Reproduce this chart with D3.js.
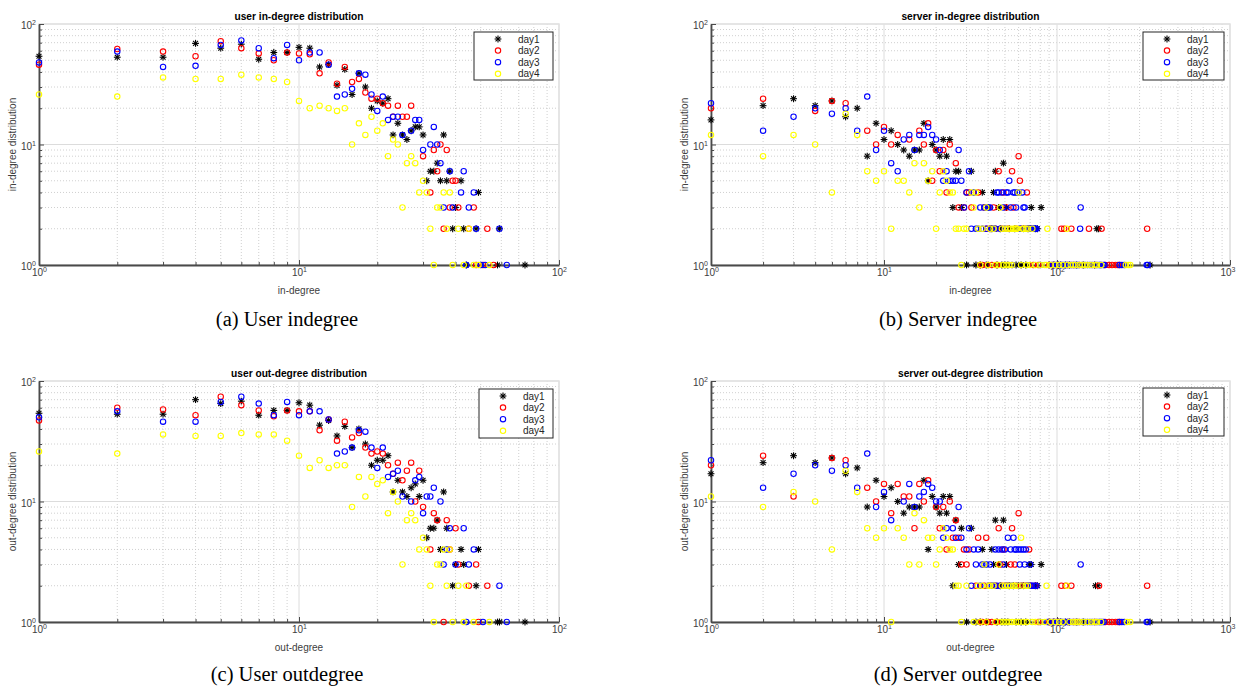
<!DOCTYPE html>
<html>
<head>
<meta charset="utf-8">
<script src="https://cdnjs.cloudflare.com/ajax/libs/d3/7.8.5/d3.min.js"></script>
<style>
  body { margin: 0; background: #fff; }
  svg { display: block; font-family: "Liberation Sans", Arial, sans-serif; }
</style>
</head>
<body>
<div id="fig"></div>
<script>
// series names / colours (legend order)
const seriesNames = ["day1", "day2", "day3", "day4"];
const seriesColors = ["#000000", "#ff0000", "#0000ff", "#ffff00"];

// ---- (a) user in-degree : [degree, count]
const userInDay1 = [[1,54],[2,53],[3,53],[4,69],[5,63],[6,68],[7,51],[8,58],[9,58],[10,64],[11,63],[12,44],[13,46],[14,31],[15,42],[16,26],[17,39],[18,30],[19,20],[20,23],[21,22],[22,24],[23,12],[24,15],[25,12],[26,11],[27,13],[28,14],[29,14],[30,12],[31,5],[32,6],[33,6],[34,7],[35,5],[36,12],[37,5],[38,6],[39,2],[40,3],[42,5],[43,2],[44,1],[48,2],[49,4],[58,1],[59,2],[74,1]];
const userInDay2 = [[1,46],[2,62],[3,59],[4,54],[5,72],[6,63],[7,57],[8,50],[9,58],[10,57],[11,56],[12,39],[13,48],[14,32],[15,44],[16,33],[17,35],[18,27],[19,24],[20,24],[21,22],[22,21],[23,17],[24,21],[25,17],[26,17],[27,21],[30,8],[32,4],[33,9],[34,6],[35,10],[36,2],[37,9],[38,3],[39,5],[40,5],[41,3],[45,2],[47,3],[48,1],[51,1],[53,2],[56,1]];
const userInDay3 = [[1,48],[2,59],[3,44],[4,45],[5,67],[6,73],[7,63],[8,52],[9,67],[10,50],[11,58],[12,58],[13,46],[14,25],[15,26],[16,29],[17,39],[18,38],[19,26],[20,19],[21,25],[22,16],[23,17],[24,17],[25,12],[27,13],[28,16],[29,16],[30,9],[32,10],[33,14],[34,10],[35,7],[36,3],[38,6],[39,3],[42,4],[43,6],[44,1],[45,3],[47,4],[48,2],[50,1],[52,1],[59,2],[63,1]];
const userInDay4 = [[1,26],[2,25],[3,36],[4,35],[5,35],[6,38],[7,36],[8,35],[9,33],[10,23],[11,20],[12,21],[13,20],[14,19],[15,20],[16,10],[17,15],[18,12],[19,17],[20,13],[21,15],[22,8],[23,11],[24,10],[25,3],[26,7],[27,8],[28,7],[29,4],[30,5],[31,4],[32,2],[33,1],[34,3],[35,3],[36,4],[37,2],[38,4],[39,1],[41,2],[43,1],[45,2],[47,1],[49,1],[54,1]];

// ---- (b) server in-degree
const serverInDay1 = [[1,16],[2,21],[3,24],[4,21],[5,23],[6,17],[7,20],[8,8],[9,15],[10,11],[11,13],[12,10],[13,9],[14,8],[15,9],[16,9],[17,15],[18,5],[19,10],[20,9],[21,8],[22,11],[23,8],[24,11],[25,3],[26,6],[27,6],[28,3],[30,1],[32,6],[34,1],[36,1],[37,4],[39,1],[40,3],[41,2],[42,2],[43,4],[44,6],[45,1],[46,3],[47,2],[48,1],[49,7],[50,1],[51,3],[52,1],[53,2],[57,2],[58,1],[62,1],[64,2],[66,1],[68,2],[71,3],[75,2],[77,2],[81,3],[90,1],[96,1],[102,1],[105,1],[112,1],[118,1],[130,1],[142,1],[165,1],[170,2],[174,2],[345,1]];
const serverInDay2 = [[1,20],[2,24],[4,19],[5,23],[6,22],[8,13],[9,10],[10,14],[11,10],[12,12],[14,11],[16,13],[17,10],[18,15],[19,5],[20,9],[21,6],[22,9],[23,4],[24,10],[26,7],[27,3],[29,3],[30,4],[31,4],[32,3],[35,4],[36,1],[37,1],[38,3],[39,2],[40,1],[41,2],[42,1],[43,3],[44,2],[45,1],[46,6],[48,2],[49,4],[51,3],[52,2],[55,6],[56,3],[58,2],[60,8],[61,5],[62,2],[65,2],[67,4],[70,2],[73,1],[78,1],[90,1],[95,1],[100,1],[106,2],[110,2],[115,1],[121,2],[125,1],[135,1],[153,2],[165,1],[181,2],[190,1],[200,1],[208,1],[218,1],[225,1],[230,1],[332,2]];
const serverInDay3 = [[1,22],[2,13],[3,17],[4,20],[5,18],[6,20],[7,13],[8,25],[9,9],[10,13],[11,7],[12,6],[13,11],[14,12],[15,9],[16,12],[17,12],[18,14],[19,12],[20,11],[21,9],[22,5],[23,6],[24,5],[25,5],[26,5],[27,9],[28,5],[29,3],[30,4],[31,6],[32,2],[33,4],[34,2],[35,2],[36,3],[37,2],[38,3],[39,2],[40,3],[41,3],[42,2],[43,2],[44,2],[45,4],[46,4],[47,2],[48,4],[49,3],[50,2],[51,4],[52,4],[53,5],[54,3],[55,1],[56,4],[57,4],[58,3],[59,4],[60,4],[61,2],[62,2],[63,4],[64,3],[65,3],[67,2],[68,2],[69,2],[70,2],[71,2],[72,2],[73,2],[74,2],[75,2],[76,2],[80,1],[93,1],[95,1],[97,1],[100,1],[102,1],[105,1],[107,1],[110,1],[112,1],[114,1],[117,1],[120,1],[122,1],[125,1],[128,1],[130,1],[133,1],[136,2],[137,3],[140,1],[145,1],[150,1],[155,1],[160,1],[165,1],[170,1],[175,1],[178,1],[180,1],[185,1],[188,1],[230,1],[237,1],[245,1],[330,1],[335,1]];
const serverInDay4 = [[1,12],[2,8],[3,12],[4,10],[5,4],[6,18],[7,12],[8,6],[9,5],[10,6],[11,2],[12,5],[13,5],[14,4],[15,7],[16,3],[17,7],[18,5],[19,6],[20,2],[21,4],[22,6],[23,5],[24,4],[25,4],[26,2],[27,2],[28,1],[29,2],[30,2],[32,4],[33,3],[34,4],[35,2],[36,1],[37,2],[39,3],[40,1],[41,2],[43,2],[44,1],[46,1],[47,3],[48,2],[49,1],[50,2],[51,1],[52,2],[53,1],[54,2],[55,1],[56,2],[57,2],[58,2],[59,2],[60,4],[62,1],[63,2],[64,2],[66,2],[67,1],[68,2],[70,1],[72,2],[75,1],[80,1],[85,1],[87,1],[88,2],[92,1],[98,1],[103,1],[108,1],[114,2],[115,1],[120,1],[124,1],[128,1],[135,1],[140,1],[145,1],[150,1],[158,1],[165,1],[170,1],[180,1],[250,1],[258,1],[265,1]];

// ---- (c) user out-degree
const userOutDay1 = [[1,54],[2,53],[3,53],[4,70],[5,65],[6,68],[7,52],[8,57],[9,57],[10,66],[11,63],[12,43],[13,47],[14,35],[15,42],[16,28],[17,40],[18,30],[19,20],[20,22],[21,22],[22,24],[23,12],[24,15],[25,12],[26,11],[27,13],[28,14],[29,11],[30,15],[31,5],[32,6],[33,6],[34,7],[35,4],[36,12],[37,6],[39,2],[40,3],[42,4],[43,3],[48,2],[49,4],[58,1],[59,1],[74,1]];
const userOutDay2 = [[1,47],[2,60],[3,58],[4,52],[5,74],[6,63],[7,57],[8,51],[9,57],[10,56],[11,56],[12,39],[13,48],[14,32],[15,46],[16,34],[17,37],[18,28],[19,25],[20,26],[21,25],[22,20],[23,17],[24,21],[25,15],[26,18],[27,21],[28,10],[29,18],[30,9],[32,4],[33,8],[34,7],[36,1],[37,7],[38,4],[40,6],[41,3],[45,2],[48,3],[49,1],[53,2]];
const userOutDay3 = [[1,50],[2,56],[3,46],[4,46],[5,67],[6,74],[7,65],[8,52],[9,67],[10,52],[11,56],[12,56],[13,48],[14,25],[15,26],[16,28],[17,39],[18,38],[19,28],[20,19],[21,28],[22,16],[23,17],[24,18],[25,11],[27,10],[28,15],[29,16],[30,8],[31,11],[32,11],[33,13],[35,10],[36,3],[37,4],[38,6],[40,3],[43,6],[44,1],[45,3],[47,4],[51,1],[59,2],[63,1]];
const userOutDay4 = [[1,26],[2,25],[3,36],[4,35],[5,35],[6,37],[7,36],[8,36],[9,32],[10,24],[11,19],[12,22],[13,19],[14,20],[15,20],[16,9],[17,16],[18,11],[19,16],[20,14],[21,15],[22,8],[23,12],[24,10],[25,3],[26,7],[27,8],[28,7],[29,4],[30,5],[31,4],[32,2],[33,1],[34,3],[35,3],[36,4],[37,2],[38,4],[39,1],[41,2],[43,1],[44,2],[47,1],[54,1]];

// ---- (d) server out-degree
const serverOutDay1 = [[1,17],[2,21],[3,24],[4,21],[5,23],[6,17],[7,19],[8,9],[9,15],[10,11],[11,13],[12,10],[13,8],[14,9],[15,9],[16,9],[17,15],[18,4],[19,11],[20,9],[21,8],[22,11],[23,8],[24,11],[25,2],[26,7],[27,3],[28,6],[30,1],[32,6],[34,1],[36,1],[37,4],[39,1],[42,4],[43,3],[44,7],[45,1],[46,3],[47,2],[48,1],[49,7],[50,1],[51,3],[52,1],[53,2],[56,2],[58,1],[60,2],[62,1],[64,2],[66,1],[69,3],[71,3],[75,2],[77,2],[81,3],[90,1],[96,1],[102,1],[105,1],[112,1],[118,1],[130,1],[142,1],[167,2],[172,2],[345,1]];
const serverOutDay2 = [[1,20],[2,24],[3,11],[5,23],[6,22],[8,13],[9,10],[10,14],[11,8],[12,14],[13,11],[14,11],[15,6],[16,14],[17,10],[18,15],[20,9],[21,6],[22,9],[23,4],[24,10],[25,5],[26,7],[27,5],[28,3],[29,4],[30,3],[31,4],[34,2],[35,5],[36,1],[37,1],[38,2],[39,5],[40,1],[41,2],[42,1],[44,2],[45,1],[46,6],[47,3],[48,2],[49,4],[50,2],[52,2],[54,3],[55,6],[57,3],[58,2],[60,8],[62,2],[64,2],[66,2],[69,4],[70,2],[75,2],[78,1],[90,1],[95,1],[100,1],[103,1],[106,2],[112,2],[115,1],[121,2],[125,1],[135,1],[165,1],[175,2],[190,1],[200,1],[208,1],[218,1],[225,1],[230,1],[332,2]];
const serverOutDay3 = [[1,22],[2,13],[3,17],[4,20],[5,18],[6,20],[7,13],[8,25],[9,9],[10,12],[11,7],[13,10],[14,14],[15,9],[16,11],[17,12],[18,14],[19,13],[20,10],[21,10],[22,5],[23,6],[25,6],[26,5],[27,9],[28,5],[30,4],[31,6],[32,2],[33,4],[34,3],[35,4],[36,2],[37,3],[38,3],[39,3],[40,2],[41,3],[42,2],[43,2],[44,4],[45,2],[46,4],[47,2],[48,4],[49,3],[50,4],[51,2],[52,5],[53,2],[54,4],[55,2],[56,5],[57,4],[58,4],[59,2],[60,4],[61,3],[62,4],[63,2],[64,4],[65,3],[66,4],[67,2],[68,2],[69,2],[70,3],[71,2],[72,2],[74,2],[76,2],[80,1],[88,1],[92,1],[95,1],[97,1],[100,1],[102,1],[105,1],[107,1],[110,1],[112,1],[115,1],[117,1],[120,1],[124,1],[128,1],[132,1],[137,3],[140,1],[145,1],[150,1],[155,1],[160,1],[165,1],[170,1],[175,1],[178,1],[182,1],[186,1],[230,1],[237,1],[245,1],[330,1],[335,1]];
const serverOutDay4 = [[1,11],[2,9],[3,12],[4,10],[5,4],[6,18],[7,12],[8,6],[9,5],[10,6],[11,1],[12,6],[13,5],[14,3],[15,8],[16,3],[17,7],[18,5],[19,5],[20,3],[21,4],[22,6],[23,5],[24,4],[25,4],[26,2],[27,2],[28,1],[30,2],[33,1],[35,2],[36,1],[37,2],[38,3],[39,1],[40,2],[41,2],[43,2],[44,1],[46,3],[47,1],[48,2],[49,1],[50,2],[51,1],[52,2],[53,1],[54,2],[55,1],[56,2],[57,2],[58,1],[59,2],[60,1],[62,5],[63,2],[64,1],[66,2],[67,1],[68,2],[72,1],[75,1],[80,1],[85,1],[87,2],[92,1],[98,1],[103,1],[108,1],[114,2],[118,1],[124,1],[128,1],[131,1],[135,1],[142,1],[150,1],[158,1],[165,1],[170,1],[180,1],[254,1],[265,1]];

const panels = [
  { title: "user in-degree distribution", xlabel: "in-degree", ylabel: "in-degree distribution", caption: "(a) User indegree",
    left: 39, right: 559, top: 24, bottom: 265, xmax: 100, capX: 287, capY: 326,
    legend: { x: 474, y: 32, w: 79, h: 48 },
    series: [userInDay1, userInDay2, userInDay3, userInDay4] },
  { title: "server in-degree distribution", xlabel: "in-degree", ylabel: "in-degree distribution", caption: "(b) Server indegree",
    left: 711, right: 1230, top: 24, bottom: 265, xmax: 1000, capX: 958, capY: 326,
    legend: { x: 1143, y: 32, w: 81, h: 48 },
    series: [serverInDay1, serverInDay2, serverInDay3, serverInDay4] },
  { title: "user out-degree distribution", xlabel: "out-degree", ylabel: "out-degree distribution", caption: "(c) User outdegree",
    left: 39, right: 559, top: 381, bottom: 622, xmax: 100, capX: 287, capY: 681,
    legend: { x: 479, y: 389, w: 74, h: 49 },
    series: [userOutDay1, userOutDay2, userOutDay3, userOutDay4] },
  { title: "server out-degree distribution", xlabel: "out-degree", ylabel: "out-degree distribution", caption: "(d) Server outdegree",
    left: 711, right: 1230, top: 381, bottom: 622, xmax: 1000, capX: 958, capY: 681,
    legend: { x: 1143, y: 388, w: 81, h: 48 },
    series: [serverOutDay1, serverOutDay2, serverOutDay3, serverOutDay4] }
];

const W = 1236, H = 686;
const axisColor = "#4a4a4a", labelColor = "#404040";

const svg = d3.select("#fig").append("svg")
  .attr("width", W).attr("height", H);

// 10^n label
function expLabel(sel, d) {
  const e = Math.round(Math.log10(d));
  sel.text("10");
  sel.append("tspan").attr("dy", "-0.55em").attr("font-size", "7px").text(e);
}

// matlab style asterisk
function drawStar(g, cx, cy, color) {
  const r = 3.4, r2 = r * 0.72;
  const segs = [[-r,0,r,0],[0,-r,0,r],[-r2,-r2,r2,r2],[-r2,r2,r2,-r2]];
  segs.forEach(s => {
    g.append("line")
      .attr("x1", cx + s[0]).attr("y1", cy + s[1])
      .attr("x2", cx + s[2]).attr("y2", cy + s[3])
      .attr("stroke", color).attr("stroke-width", 1.1);
  });
}

function drawPanel(p) {
  const g = svg.append("g");
  const x = d3.scaleLog().domain([1, p.xmax]).range([p.left, p.right]);
  const y = d3.scaleLog().domain([1, 100]).range([p.bottom, p.top]);

  const xAll = x.ticks();
  const yAll = y.ticks();
  const isDecade = d => Math.abs(Math.log10(d) - Math.round(Math.log10(d))) < 1e-9;
  const xMaj = xAll.filter(isDecade), yMaj = yAll.filter(isDecade);
  const xMin = xAll.filter(d => !isDecade(d)), yMin = yAll.filter(d => !isDecade(d));

  // minor grid (dotted)
  g.append("g").selectAll("line").data(xMin).enter().append("line")
    .attr("x1", d => x(d)).attr("x2", d => x(d))
    .attr("y1", p.top).attr("y2", p.bottom)
    .attr("stroke", "#c4c4c4").attr("stroke-width", 0.8).attr("stroke-dasharray", "1,2");
  g.append("g").selectAll("line").data(yMin).enter().append("line")
    .attr("y1", d => y(d)).attr("y2", d => y(d))
    .attr("x1", p.left).attr("x2", p.right)
    .attr("stroke", "#c4c4c4").attr("stroke-width", 0.8).attr("stroke-dasharray", "1,2");
  // major grid (solid)
  g.append("g").selectAll("line").data(xMaj).enter().append("line")
    .attr("x1", d => x(d)).attr("x2", d => x(d))
    .attr("y1", p.top).attr("y2", p.bottom)
    .attr("stroke", "#dcdcdc").attr("stroke-width", 1);
  g.append("g").selectAll("line").data(yMaj).enter().append("line")
    .attr("y1", d => y(d)).attr("y2", d => y(d))
    .attr("x1", p.left).attr("x2", p.right)
    .attr("stroke", "#dcdcdc").attr("stroke-width", 1);

  // light box top/right
  g.append("rect")
    .attr("x", p.left).attr("y", p.top)
    .attr("width", p.right - p.left).attr("height", p.bottom - p.top)
    .attr("fill", "none").attr("stroke", "#e2e2e2").attr("stroke-width", 1.5);

  // x axis: minor ticks then major ticks with labels
  g.append("g").attr("transform", "translate(0," + p.bottom + ")")
    .call(d3.axisBottom(x).tickValues(xMin).tickSize(-3).tickSizeOuter(0).tickFormat(""))
    .call(s => s.select(".domain").remove())
    .selectAll(".tick line").attr("stroke", axisColor);
  const xa = g.append("g").attr("transform", "translate(0," + p.bottom + ")")
    .call(d3.axisBottom(x).tickValues(xMaj).tickSize(-5).tickSizeOuter(0).tickPadding(4).tickFormat(""));
  xa.select(".domain").attr("stroke", axisColor).attr("stroke-width", 1.8);
  xa.selectAll(".tick line").attr("stroke", axisColor);
  xa.selectAll(".tick text")
    .attr("font-family", "Liberation Sans, Arial, sans-serif").attr("font-size", "10px").attr("fill", labelColor)
    .each(function(d) { expLabel(d3.select(this), d); });
  // last label sits at the page edge: keep it inside
  xa.selectAll(".tick text").filter(d => x(d) > W - 12)
    .attr("text-anchor", "end").attr("x", W - 1 - x(p.xmax));

  // y axis
  g.append("g").attr("transform", "translate(" + p.left + ",0)")
    .call(d3.axisLeft(y).tickValues(yMin).tickSize(-3).tickSizeOuter(0).tickFormat(""))
    .call(s => s.select(".domain").remove())
    .selectAll(".tick line").attr("stroke", axisColor);
  const ya = g.append("g").attr("transform", "translate(" + p.left + ",0)")
    .call(d3.axisLeft(y).tickValues(yMaj).tickSize(-5).tickSizeOuter(0).tickPadding(3).tickFormat(""));
  ya.select(".domain").attr("stroke", axisColor).attr("stroke-width", 1.8);
  ya.selectAll(".tick line").attr("stroke", axisColor);
  ya.selectAll(".tick text")
    .attr("font-family", "Liberation Sans, Arial, sans-serif").attr("font-size", "10px").attr("fill", labelColor)
    .attr("dy", "0.45em")
    .each(function(d) { expLabel(d3.select(this), d); });

  // points, day1 first so day4 ends on top
  p.series.forEach((data, i) => {
    const sg = g.append("g");
    if (i === 0) {
      data.forEach(d => drawStar(sg, x(d[0]), y(d[1]), seriesColors[0]));
    } else {
      sg.selectAll("circle").data(data).enter().append("circle")
        .attr("cx", d => x(d[0])).attr("cy", d => y(d[1])).attr("r", 2.7)
        .attr("fill", "none").attr("stroke", seriesColors[i]).attr("stroke-width", 1.1);
    }
  });

  // legend
  const L = p.legend;
  const lg = g.append("g");
  lg.append("rect").attr("x", L.x).attr("y", L.y).attr("width", L.w).attr("height", L.h)
    .attr("fill", "#fff").attr("stroke", "#262626").attr("stroke-width", 1);
  seriesNames.forEach((name, i) => {
    const ly = L.y + 7 + i * 11.6;
    const mx = L.x + 24;
    if (i === 0) drawStar(lg, mx, ly, seriesColors[0]);
    else lg.append("circle").attr("cx", mx).attr("cy", ly).attr("r", 2.7)
      .attr("fill", "none").attr("stroke", seriesColors[i]).attr("stroke-width", 1.1);
    lg.append("text").attr("x", L.x + 44).attr("y", ly + 3.5)
      .attr("font-size", "10px").attr("fill", "#262626").text(name);
  });

  // title and axis labels
  const cx = (p.left + p.right) / 2;
  g.append("text").attr("x", cx).attr("y", p.top - 4.5).attr("text-anchor", "middle")
    .attr("font-size", "10.2px").attr("font-weight", "bold").attr("fill", "#000").text(p.title);
  g.append("text").attr("x", cx).attr("y", p.bottom + 29).attr("text-anchor", "middle")
    .attr("font-size", "10px").attr("fill", labelColor).text(p.xlabel);
  g.append("text")
    .attr("transform", "translate(" + (p.left - 23) + "," + ((p.top + p.bottom) / 2) + ") rotate(-90)")
    .attr("text-anchor", "middle").attr("font-size", "10px").attr("fill", labelColor).text(p.ylabel);

  // subfigure caption
  g.append("text").attr("x", p.capX).attr("y", p.capY).attr("text-anchor", "middle")
    .attr("font-family", "Liberation Serif, Times New Roman, serif").attr("font-size", "20.5px")
    .attr("fill", "#000").text(p.caption);
}

panels.forEach(drawPanel);
</script>
</body>
</html>
